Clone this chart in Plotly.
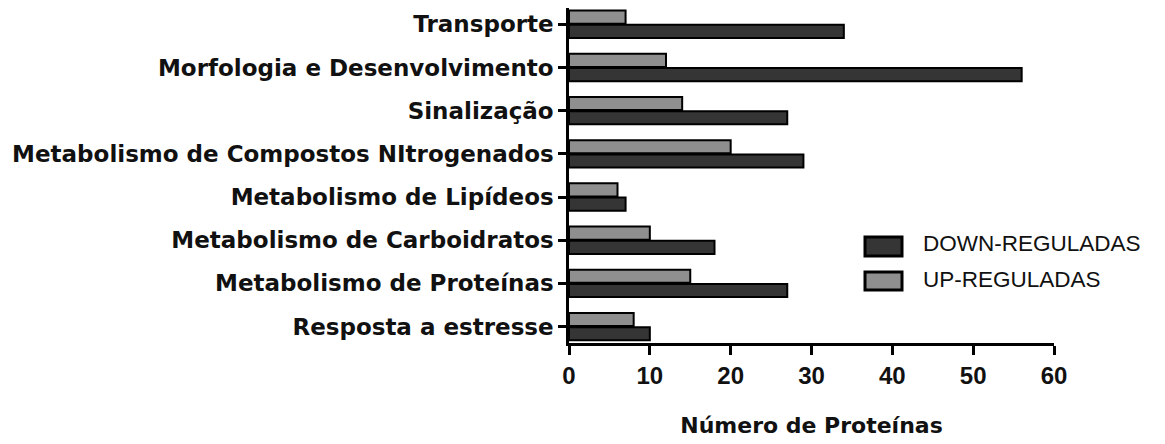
import plotly.graph_objects as go

# categories, listed top to bottom as in the chart
categorias = [
    'Transporte',
    'Morfologia e Desenvolvimento',
    'Sinalização',
    'Metabolismo de Compostos NItrogenados',
    'Metabolismo de Lipídeos',
    'Metabolismo de Carboidratos',
    'Metabolismo de Proteínas',
    'Resposta a estresse',
]
up_reguladas = [7, 12, 14, 20, 6, 10, 15, 8]
down_reguladas = [34, 56, 27, 29, 7, 18, 27, 10]
x_ticks = [0, 10, 20, 30, 40, 50, 60]

W, H = 1165, 444
OFF = 8  # page body margin of the html
L, R, T, B = 561, 119, 0, 109
cores = {'DOWN-REGULADAS': '#353535', 'UP-REGULADAS': '#8f8f8f'}

fig = go.Figure()

# trace order: UP first so it sits above DOWN inside each group (y axis reversed)
fig.add_trace(
    go.Bar(
        y = categorias,
        x = up_reguladas,
        orientation = 'h',
        name = 'UP-REGULADAS',
        marker = {'color': cores['UP-REGULADAS'], 'line': {'color': 'black', 'width': 2}},
        showlegend = False,
    )
)
fig.add_trace(
    go.Bar(
        y = categorias,
        x = down_reguladas,
        orientation = 'h',
        name = 'DOWN-REGULADAS',
        marker = {'color': cores['DOWN-REGULADAS'], 'line': {'color': 'black', 'width': 2}},
        showlegend = False,
    )
)

# hand drawn legend, to get the big framed swatches of the original
pw, ph = W - L - R, H - T - B
def px_x(p):
    return (p - OFF - L) / pw
def px_y(p):
    return (OFF + H - B - p) / ph

legenda = [('DOWN-REGULADAS', 237, 256, 244), ('UP-REGULADAS', 272, 290, 279)]
for nome, y_top, y_bot, y_txt in legenda:
    fig.add_shape(
        type = 'rect', xref = 'paper', yref = 'paper',
        x0 = px_x(865), x1 = px_x(902), y0 = px_y(y_bot), y1 = px_y(y_top),
        fillcolor = cores[nome], line = {'color': 'black', 'width': 3},
    )
    fig.add_annotation(
        xref = 'paper', yref = 'paper', x = px_x(921), y = px_y(y_txt),
        xanchor = 'left', yanchor = 'middle', showarrow = False, text = nome,
        font = {'family': 'Liberation Sans', 'size': 22.5, 'color': '#111'},
    )

fig.update_layout(
    width = W, height = H,
    margin = {'l': L, 'r': R, 't': T, 'b': B, 'pad': 0},
    plot_bgcolor = 'white', paper_bgcolor = 'white',
    barmode = 'group', bargap = 0.34, bargroupgap = 0.08,
    xaxis = dict(
        range = [0, 60], tickvals = x_ticks, showgrid = False, zeroline = False,
        showline = True, linecolor = 'black', linewidth = 2.5,
        ticks = 'outside', ticklen = 9, tickwidth = 2.5, tickcolor = 'black',
        tickfont = {'family': 'Liberation Sans', 'size': 24, 'color': '#111', 'weight': 'bold'},
        title = {'text': 'Número de Proteínas', 'standoff': 31,
                 'font': {'family': 'DejaVu Sans', 'size': 22, 'color': '#111', 'weight': 'bold'}},
        automargin = False,
    ),
    yaxis = dict(
        range = [7.38, -0.377], showgrid = False, zeroline = False,
        showline = True, linecolor = 'black', linewidth = 2.5,
        ticks = 'outside', ticklen = 8, tickwidth = 2.5, tickcolor = 'black',
        tickfont = {'family': 'DejaVu Sans', 'size': 23, 'color': '#111', 'weight': 'bold'},
        automargin = False,
    ),
)

fig.write_html("out.html")
